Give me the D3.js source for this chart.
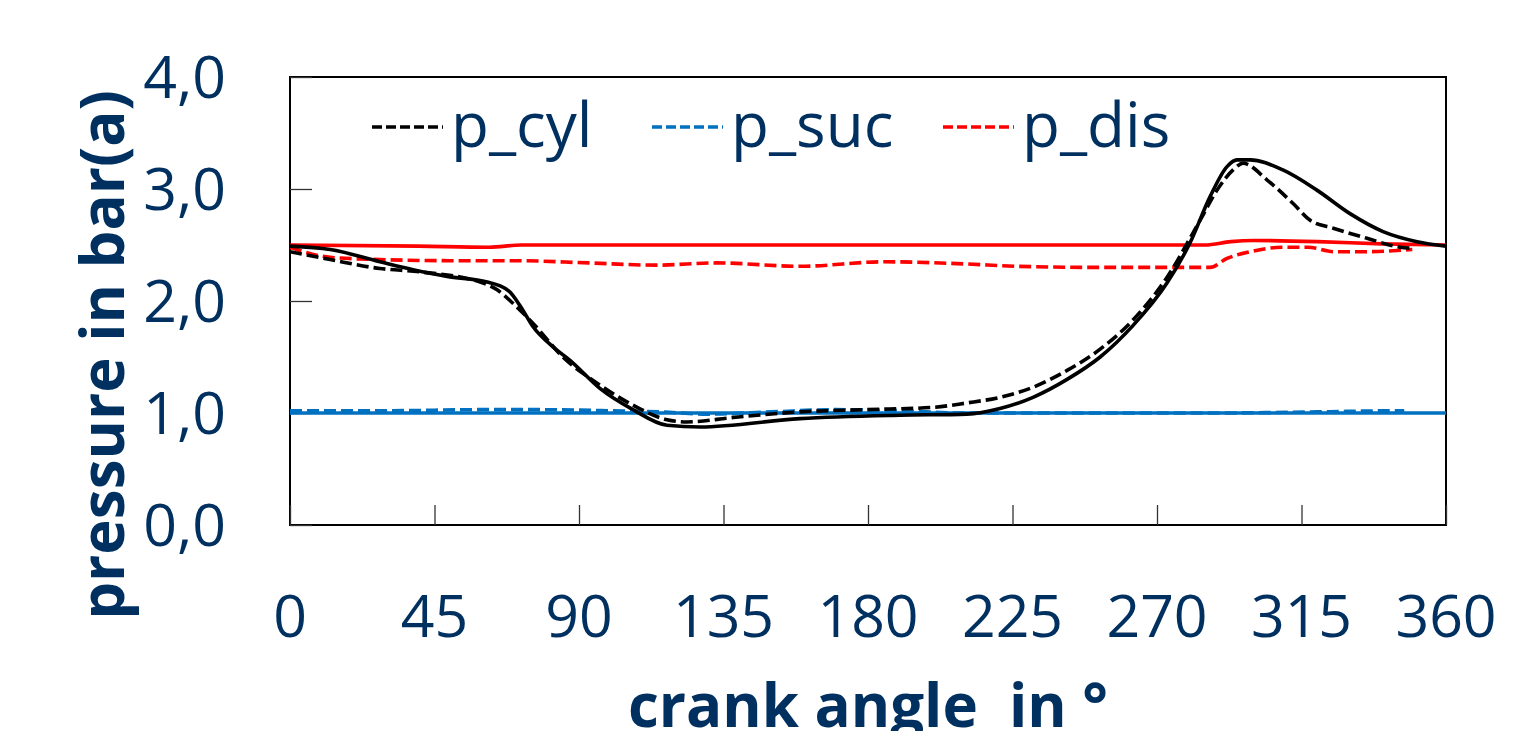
<!DOCTYPE html>
<html>
<head>
<meta charset="utf-8">
<script src="https://cdn.jsdelivr.net/npm/d3@7.9.0/dist/d3.min.js"></script>
<style>
  html, body { margin: 0; padding: 0; background: #fff; }
  svg { display: block; font-family: "Open Sans", "Noto Sans", sans-serif; }
</style>
</head>
<body>
<svg id="chart" width="1527" height="731"></svg>
<script>
// crank angle (deg) / pressure (bar)
const cylSolidAngle = [0, 12.5, 28, 38.3, 48.9, 61.4, 65, 68.5, 71.6, 75.7, 81.9, 87.2, 96.5, 106.8, 117.4, 127.7, 158.8, 190, 210.8, 221.1, 231.4, 242, 252.3, 262.5, 273.1, 280.3, 286.5, 291.8, 294.9, 299, 309.2, 319.8, 330.1, 340.4, 351, 360];
const cylSolid      = [2.49, 2.46, 2.35, 2.28, 2.22, 2.17, 2.14, 2.08, 1.96, 1.77, 1.59, 1.47, 1.22, 1.03, 0.89, 0.875, 0.95, 0.98, 0.99, 1.04, 1.14, 1.30, 1.50, 1.78, 2.16, 2.52, 2.93, 3.20, 3.26, 3.26, 3.17, 2.99, 2.78, 2.62, 2.53, 2.49];

const cylDashAngle = [0, 12.5, 28, 40.5, 59.2, 64.5, 69.4, 75.7, 85, 96.5, 106.8, 117.4, 123.6, 138, 158.8, 179.7, 200.2, 210.8, 221.1, 231.4, 242, 252.3, 262.5, 273.1, 283.4, 288.7, 293.7, 296.8, 304.3, 312.4, 317.7, 324.9, 335.4, 345.7, 349.5];
const cylDash      = [2.44, 2.37, 2.29, 2.26, 2.17, 2.10, 1.98, 1.80, 1.50, 1.25, 1.07, 0.94, 0.92, 0.96, 1.01, 1.03, 1.05, 1.09, 1.14, 1.23, 1.38, 1.57, 1.83, 2.21, 2.72, 2.99, 3.17, 3.23, 3.08, 2.87, 2.72, 2.65, 2.56, 2.48, 2.47];

const sucSolidAngle = [0, 90, 180, 270, 360];
const sucSolid      = [1.0, 1.0, 1.0, 1.0, 1.0];

const sucDashAngle = [0, 30, 60, 75, 100, 115, 130, 150, 170, 190, 210, 250, 290, 320, 345, 347];
const sucDash      = [1.02, 1.02, 1.03, 1.03, 1.02, 1.01, 0.99, 1.01, 1.03, 1.02, 1.0, 1.0, 1.0, 1.01, 1.02, 1.02];

const disSolidAngle = [0, 40, 62, 72, 150, 285, 293, 300, 320, 340, 360];
const disSolid      = [2.50, 2.49, 2.48, 2.50, 2.50, 2.50, 2.53, 2.54, 2.53, 2.51, 2.50];

const disDashAngle = [0, 12.5, 28, 50, 70, 93, 114, 133, 159, 185, 211, 226, 252, 286.5, 291.8, 299, 309, 317, 325, 335, 349.5];
const disDash      = [2.48, 2.39, 2.37, 2.36, 2.36, 2.34, 2.32, 2.34, 2.31, 2.35, 2.33, 2.31, 2.30, 2.30, 2.38, 2.44, 2.48, 2.48, 2.44, 2.44, 2.46];

const xTicks = [0, 45, 90, 135, 180, 225, 270, 315, 360];
const yTicks = [0, 1, 2, 3, 4];
const legendNames = ['p_cyl', 'p_suc', 'p_dis'];

const ink = '#00305f';
const colors = { cyl: '#000000', suc: '#0070c0', dis: '#ff0000' };

const svg = d3.select('#chart');
const area = { left: 290, right: 1446, top: 77, bottom: 525 };

const x = d3.scaleLinear().domain([0, 360]).range([area.left, area.right]);
const y = d3.scaleLinear().domain([0, 4]).range([area.bottom, area.top]);

// frame
svg.append('rect')
  .attr('x', area.left).attr('y', area.top)
  .attr('width', area.right - area.left).attr('height', area.bottom - area.top)
  .attr('fill', 'none').attr('stroke', '#000').attr('stroke-width', 2);

// axes (ticks pointing inward)
const xAxis = svg.append('g')
  .attr('transform', `translate(0,${area.bottom})`)
  .call(d3.axisTop(x).tickValues(xTicks).tickSize(20).tickFormat(''));
xAxis.select('.domain').remove();
xAxis.selectAll('line').attr('stroke', '#333').attr('stroke-width', 1.3);

const yAxis = svg.append('g')
  .attr('transform', `translate(${area.left},0)`)
  .call(d3.axisRight(y).tickValues(yTicks).tickSize(22).tickFormat(''));
yAxis.select('.domain').remove();
yAxis.selectAll('line').attr('stroke', '#333').attr('stroke-width', 1.3);

// tick labels
svg.append('g').selectAll('text')
  .data(xTicks)
  .join('text')
  .attr('x', d => x(d))
  .attr('y', 637)
  .attr('text-anchor', 'middle')
  .attr('font-size', 59)
  .attr('fill', ink)
  .text(d => d);

svg.append('g').selectAll('text')
  .data(yTicks)
  .join('text')
  .attr('x', 226)
  .attr('y', d => y(d))
  .attr('dy', '0.36em')
  .attr('text-anchor', 'end')
  .attr('font-size', 59)
  .attr('fill', ink)
  .text(d => d3.format('.1f')(d).replace('.', ','));

// axis titles
svg.append('text')
  .attr('x', 868).attr('y', 727)
  .attr('text-anchor', 'middle')
  .attr('font-size', 60).attr('font-weight', 'bold')
  .attr('fill', ink)
  .style('white-space', 'pre')
  .text('crank angle  in °');

svg.append('text')
  .attr('transform', 'translate(124,355) rotate(-90)')
  .attr('text-anchor', 'middle')
  .attr('font-size', 60).attr('font-weight', 'bold')
  .attr('fill', ink)
  .text('pressure in bar(a)');

// lines
svg.append('clipPath').attr('id', 'clip')
  .append('rect')
  .attr('x', area.left).attr('y', area.top)
  .attr('width', area.right - area.left).attr('height', area.bottom - area.top);

const line = d3.line()
  .x(d => x(d[0]))
  .y(d => y(d[1]))
  .curve(d3.curveMonotoneX);

const series = [
  { ang: sucSolidAngle, val: sucSolid, color: colors.suc, dash: null },
  { ang: sucDashAngle, val: sucDash, color: colors.suc, dash: '12,5' },
  { ang: disSolidAngle, val: disSolid, color: colors.dis, dash: null },
  { ang: disDashAngle, val: disDash, color: colors.dis, dash: '12,5' },
  { ang: cylDashAngle, val: cylDash, color: colors.cyl, dash: '12,5' },
  { ang: cylSolidAngle, val: cylSolid, color: colors.cyl, dash: null },
];

const lines = svg.append('g').attr('clip-path', 'url(#clip)');
lines.selectAll('path')
  .data(series)
  .join('path')
  .attr('d', s => line(d3.zip(s.ang, s.val)))
  .attr('fill', 'none')
  .attr('stroke', s => s.color)
  .attr('stroke-width', 3.6)
  .attr('stroke-dasharray', s => s.dash);

// legend (dashed entries)
const legendX = [372, 652, 943];
const legendColors = [colors.cyl, colors.suc, colors.dis];
const legend = svg.append('g');
legendNames.forEach((name, i) => {
  legend.append('line')
    .attr('x1', legendX[i]).attr('x2', legendX[i] + 71)
    .attr('y1', 127).attr('y2', 127)
    .attr('stroke', legendColors[i])
    .attr('stroke-width', 3.6)
    .attr('stroke-dasharray', '10,4');
  legend.append('text')
    .attr('x', legendX[i] + 79)
    .attr('y', 147)
    .attr('font-size', 62)
    .attr('fill', ink)
    .text(name);
});
</script>
</body>
</html>
